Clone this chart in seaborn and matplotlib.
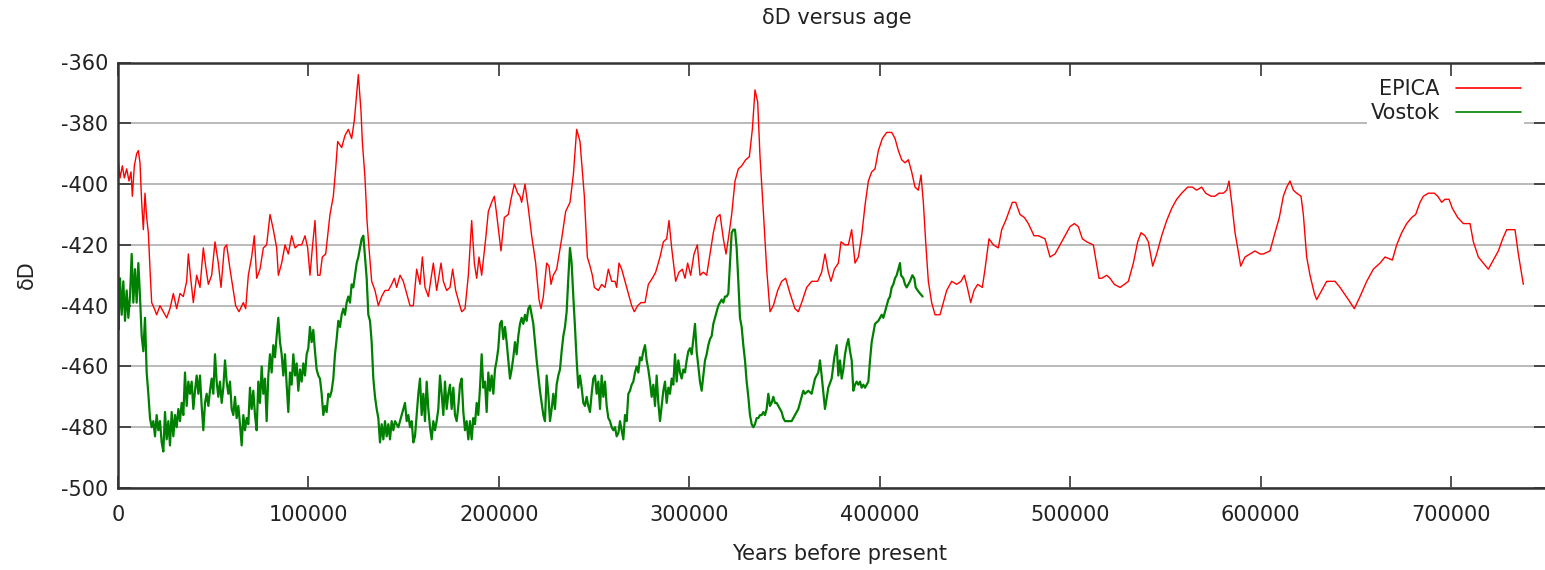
import matplotlib
matplotlib.use("Agg")
import matplotlib.pyplot as plt
import seaborn as sns
import pandas as pd

# ---- EPICA Dome C deuterium record (age in kyr BP, deltaD in permil) ----
EPICA_AGE_KYR = [
    0.1, 1.05, 2.28, 3.33, 4.55, 5.78, 6.83, 7.53, 8.58, 9.80, 10.68, 11.55, 12.43, 13.30,
    14.18, 15.05, 15.93, 16.80, 17.68, 19.08, 20.30, 22.05, 23.80, 25.55, 27.30, 29.05,
    30.80, 32.55, 34.30, 36.05, 36.93, 38.33, 39.55, 41.30, 43.05, 44.80, 46.03, 47.43,
    49.18, 50.93, 52.68, 54.08, 55.83, 57.06, 58.81, 60.56, 61.78, 63.53, 65.81, 67.03,
    68.43, 70.18, 71.58, 72.81, 74.56, 76.31, 78.06, 79.81, 81.56, 83.31, 84.19, 85.94,
    87.69, 89.44, 91.19, 92.94, 94.69, 96.44, 98.19, 99.59, 100.81, 102.04, 103.44,
    104.84, 106.06, 107.29, 109.04, 111.31, 113.06, 114.29, 115.34, 117.44, 119.19,
    120.94, 122.69, 124.09, 125.32, 126.19, 127.59, 128.29, 129.69, 130.74, 131.79,
    133.19, 134.94, 136.69, 138.44, 140.19, 141.94, 143.69, 145.09, 146.32, 148.07,
    149.82, 151.57, 153.32, 155.07, 156.82, 158.57, 159.80, 161.20, 162.95, 165.57,
    167.32, 169.60, 170.82, 172.57, 174.32, 175.72, 177.30, 179.05, 180.45, 182.20,
    183.95, 185.70, 187.10, 188.33, 189.55, 190.95, 193.05, 194.45, 196.20, 197.60,
    198.83, 201.10, 202.85, 204.95, 206.35, 208.10, 209.85, 211.08, 211.95, 213.70,
    215.45, 217.20, 219.30, 221.05, 222.10, 223.33, 225.08, 226.30, 227.35, 228.58,
    230.33, 232.95, 235.06, 237.33, 239.08, 240.83, 242.58, 244.86, 246.43, 247.83,
    249.06, 250.11, 252.21, 253.96, 255.71, 257.46, 259.21, 260.96, 261.83, 263.06,
    264.46, 266.21, 267.96, 269.71, 271.11, 272.86, 274.61, 276.71, 278.46, 280.56,
    282.31, 284.59, 286.34, 288.09, 289.31, 290.71, 292.81, 294.56, 296.31, 297.71,
    299.11, 300.69, 302.44, 304.19, 305.59, 307.34, 309.09, 310.84, 312.59, 314.34,
    316.09, 317.84, 319.24, 320.47, 322.22, 323.97, 325.72, 327.47, 329.57, 331.50,
    333.07, 334.47, 335.87, 337.10, 338.85, 340.60, 342.35, 344.10, 346.37, 348.47,
    350.57, 352.85, 355.47, 357.22, 358.97, 361.60, 364.22, 367.37, 369.47, 371.22,
    372.97, 374.37, 376.12, 378.23, 379.63, 381.73, 383.48, 385.23, 386.98, 388.73,
    390.48, 392.23, 393.98, 395.73, 397.48, 399.23, 401.33, 403.60, 406.23, 407.98,
    409.73, 411.48, 413.23, 414.98, 416.73, 418.48, 420.23, 421.63, 422.86, 424.08,
    425.48, 427.23, 428.98, 431.61, 433.36, 435.11, 437.73, 440.36, 442.63, 444.38,
    445.96, 447.71, 449.46, 451.38, 453.83, 455.23, 457.33, 459.61, 462.23, 463.99,
    466.09, 467.84, 469.59, 471.34, 473.61, 475.89, 477.99, 480.96, 483.24, 486.74,
    489.36, 491.99, 494.61, 497.24, 499.87, 502.14, 504.24, 506.34, 508.62, 512.12,
    515.09, 516.49, 519.12, 520.87, 523.14, 526.12, 528.39, 530.50, 533.12, 535.40,
    537.15, 539.25, 541.00, 543.27, 545.37, 548.00, 550.62, 553.25, 555.87, 558.50,
    561.65, 564.10, 566.37, 569.00, 571.10, 573.90, 576.00, 578.10, 580.38, 582.13,
    583.35, 584.75, 586.50, 587.90, 589.48, 591.75, 594.38, 597.00, 599.63, 601.38,
    604.88, 607.50, 609.78, 611.88, 613.63, 615.38, 617.13, 618.88, 621.16, 622.38,
    624.13, 625.88, 628.16, 629.38, 632.01, 634.63, 639.01, 641.64, 646.01, 649.16,
    652.14, 655.64, 659.14, 662.64, 665.26, 669.11, 671.39, 674.01, 676.64, 679.26,
    681.36, 683.64, 685.39, 688.02, 691.17, 692.92, 695.02, 696.77, 698.87, 700.62,
    703.42, 706.40, 709.90, 711.65, 714.27, 716.90, 719.52, 722.15, 724.77, 727.05,
    729.14, 731.42, 733.52, 735.27, 737.89,
]
EPICA_DD = [
    -392, -398, -394, -398, -395, -399, -396, -404, -394, -390, -389, -393, -406, -415,
    -403, -411, -416, -428, -439, -441, -443, -440, -442, -444, -441, -436,
    -441, -436, -437, -432, -423, -432, -439, -430, -434, -421, -427, -433,
    -430, -419, -426, -434, -421, -420, -428, -435, -440, -442, -439, -441,
    -430, -424, -417, -431, -428, -421, -420, -410, -415, -421, -430, -426,
    -420, -423, -417, -421, -420, -420, -417, -421, -430, -421, -412,
    -430, -430, -424, -423, -410, -404, -395, -386, -388, -384,
    -382, -385, -379, -370, -364, -376, -386, -398, -412, -421,
    -432, -435, -440, -437, -435, -435, -433, -431, -434, -430,
    -432, -436, -440, -440, -428, -433, -424, -434, -437, -426,
    -435, -426, -432, -435, -434, -428, -435, -439, -442, -441,
    -430, -412, -426, -431, -424, -430, -418, -409, -406, -404,
    -410, -422, -411, -410, -405, -400, -403, -404, -406, -400,
    -408, -417, -426, -438, -441, -437, -426, -427, -433, -430,
    -428, -418, -409, -406, -397, -382, -386, -404, -424, -427,
    -430, -434, -435, -433, -434, -428, -432, -432, -434, -426,
    -428, -432, -436, -440, -442, -440, -439, -439, -433, -431,
    -429, -424, -419, -418, -412, -421, -432, -429, -428, -431,
    -426, -430, -423, -420, -430, -429, -430, -423, -416, -411,
    -410, -418, -423, -418, -410, -399, -395, -394, -392, -391,
    -382, -369, -373, -391, -409, -428, -442, -440, -435, -432,
    -431, -436, -441, -442, -439, -434, -432, -432, -429, -423,
    -429, -432, -428, -426, -419, -420, -420, -415, -426, -424,
    -417, -407, -399, -396, -395, -389, -385, -383, -383, -385,
    -389, -392, -393, -392, -396, -401, -402, -397, -406, -419,
    -432, -439, -443, -443, -439, -435, -432, -433, -432, -430,
    -434, -439, -435, -433, -434, -428, -418, -420, -421, -415,
    -412, -409, -406, -406, -410, -411, -413, -417, -417, -418,
    -424, -423, -420, -417, -414, -413, -414, -418, -419, -420,
    -431, -431, -430, -431, -433, -434, -433, -432, -426, -419,
    -416, -417, -419, -427, -423, -417, -412, -408, -405, -403,
    -401, -401, -402, -401, -403, -404, -404, -403, -403, -402,
    -399, -406, -416, -421, -427, -424, -423, -422, -423, -423,
    -422, -416, -411, -404, -401, -399, -402, -403, -404, -410,
    -424, -430, -436, -438, -435, -432, -432, -434, -438, -441,
    -437, -432, -428, -426, -424, -425, -420, -416, -413, -411,
    -410, -406, -404, -403, -403, -404, -406, -405, -405, -408,
    -411, -413, -413, -419, -424, -426, -428, -425, -422, -418,
    -415, -415, -415, -423, -433,
]

# ---- Vostok deuterium record (age in kyr BP, deltaD in permil) ----
VOSTOK_AGE_KYR = [
    0.00, 0.18, 1.05, 1.93, 2.80, 3.68, 4.55, 5.43, 6.30, 7.18, 8.05, 8.93, 9.80, 10.68,
    11.55, 12.43, 13.30, 14.18, 15.05, 15.93, 16.80, 17.68, 18.55, 19.43, 20.30, 21.18,
    22.05, 22.93, 23.80, 24.68, 25.55, 26.43, 27.30, 28.18, 29.05, 29.93, 30.80, 31.68,
    32.55, 33.43, 34.30, 35.18, 36.05, 36.93, 37.80, 38.68, 39.55, 40.43, 41.30, 42.18,
    43.05, 43.93, 44.80, 45.68, 46.55, 47.43, 48.30, 49.18, 50.05, 50.93, 51.80, 52.68,
    53.55, 54.43, 55.30, 56.18, 57.05, 57.93, 58.80, 59.68, 60.55, 61.43, 62.30, 63.18,
    64.05, 64.93, 65.80, 66.68, 67.55, 68.43, 69.30, 70.18, 71.05, 71.93, 72.80, 73.68,
    74.55, 75.43, 76.30, 77.18, 78.05, 78.93, 79.80, 80.68, 81.55, 82.43, 83.30, 84.18,
    85.05, 85.93, 86.80, 87.68, 88.55, 89.43, 90.30, 91.18, 92.05, 92.93, 93.80, 94.68,
    95.55, 96.43, 97.30, 98.18, 99.05, 99.93, 100.80, 101.68, 102.55, 103.43, 104.30,
    105.18, 106.05, 106.93, 107.80, 108.68, 109.55, 110.43, 111.30, 112.18, 113.05,
    113.93, 114.80, 115.68, 116.55, 117.43, 118.30, 119.18, 120.05, 120.93, 121.80,
    122.68, 123.55,
    124.44, 125.32, 126.19, 127.07, 127.94, 128.82, 129.69, 130.57, 131.44, 132.32,
    133.19, 134.07, 134.94, 135.82, 136.69, 137.57, 138.44, 139.32, 140.19, 141.07,
    141.94, 142.82, 143.69, 144.57, 145.44, 147.19, 148.94, 150.69, 151.57, 152.44,
    153.32, 154.19, 155.07, 155.94, 156.82, 157.69, 158.57, 159.44, 160.32, 161.19,
    162.07, 162.94, 163.82, 164.69, 165.57, 166.44, 167.32, 168.19, 169.07, 169.94,
    170.82, 171.69, 172.57, 173.44, 174.32, 175.19, 176.07, 176.94, 177.82, 178.69,
    179.57, 180.44, 181.32, 182.19, 183.07, 183.94, 184.82, 185.69, 186.57, 187.44,
    188.32, 189.19, 190.07, 190.94, 191.82, 192.69, 193.57, 194.44, 195.32, 196.19,
    197.07, 197.94, 198.82, 199.69, 200.57, 201.44, 202.32, 203.19, 204.07, 204.94,
    205.82, 206.69, 207.57, 208.44, 209.32, 210.19, 211.07, 211.94, 212.82, 213.69,
    214.57, 215.44, 216.32, 217.19, 218.07, 218.94, 219.82, 220.69, 221.57, 222.44,
    223.32, 224.19, 225.07, 225.94, 226.82, 227.69, 228.57, 229.44, 230.32, 231.19,
    232.07, 232.94, 233.82, 234.69, 235.57, 236.44, 237.32, 238.19, 239.07, 239.94,
    240.82, 241.69, 242.57, 243.44, 244.32, 245.19, 246.07, 246.94, 247.82, 248.69,
    249.57,
    250.46, 251.33, 252.21, 253.08, 253.96, 254.83, 255.71, 256.58, 257.46, 258.33,
    259.21, 260.08, 260.96, 261.83, 262.71, 263.58, 264.46, 265.33, 266.21, 267.08,
    267.96, 268.83, 269.71, 270.58, 271.46, 272.33, 273.21, 274.08, 274.96, 275.83,
    276.71, 277.58, 278.46, 279.33, 280.21, 281.08, 281.96, 282.83, 283.71, 284.58,
    285.46, 286.33, 287.21, 288.08, 288.96, 289.83, 290.71, 291.58, 292.46, 293.33,
    294.21, 295.08, 295.96, 296.83, 297.71, 298.58, 299.46, 300.33, 301.21, 302.08,
    302.96, 303.83, 304.71, 305.58, 306.46, 307.33, 308.21, 309.08, 309.96, 310.83,
    311.71, 312.58, 313.46, 314.33, 315.21, 316.08, 316.96, 317.83, 318.71, 319.58,
    320.46, 321.33, 322.21, 323.08, 323.96, 324.83, 325.71, 326.58, 327.46, 328.33,
    329.21, 330.08, 330.96, 331.83, 332.71, 333.58, 334.46, 335.33, 336.21, 337.08,
    337.96, 338.83, 339.71, 340.58, 341.46, 342.33, 343.21, 344.08, 344.96, 345.83,
    346.71, 347.58, 348.46, 349.33, 350.21, 351.96, 353.71, 355.46, 357.21, 358.96,
    359.83, 360.71, 362.46, 364.21, 365.96, 367.71, 368.58, 369.46, 371.21, 372.96,
    374.71, 376.12,
    377.35, 378.23, 379.10, 379.98, 380.85, 381.73, 382.60, 383.48, 384.35, 385.23,
    386.10, 386.98, 387.85, 388.73, 389.60, 390.48, 391.35, 392.23, 393.10, 393.98,
    394.85, 395.73, 396.60, 397.48, 399.23, 400.98, 401.85, 402.73, 403.60, 404.48,
    405.35, 406.23, 407.10, 407.98, 408.85, 409.73, 410.60, 411.13, 412.35, 413.23,
    414.10, 414.98, 415.85, 417.08, 418.13, 418.83, 419.88, 421.10, 422.50,
]
VOSTOK_DD = [
    -436, -448, -431, -443, -432, -445, -435, -444, -437, -423, -439, -428, -439, -426,
    -437, -450, -455, -444, -462, -469, -477, -480, -478, -483, -476, -481,
    -478, -485, -488, -475, -484, -478, -486, -475, -483, -476, -480, -474,
    -478, -472, -476, -462, -473, -465, -469, -465, -474, -468, -463, -469,
    -463, -473, -481, -472, -469, -473, -468, -464, -469, -456, -465, -470,
    -465, -472, -467, -458, -465, -469, -465, -474, -476, -470, -477, -473,
    -479, -486, -476, -481, -477, -479, -467, -474, -468, -476, -481, -465,
    -472, -460, -469, -464, -478, -463, -456, -462, -453, -457, -450, -444,
    -452, -456, -463, -456, -466, -475, -462, -466, -456, -463, -459, -468,
    -461, -465, -459, -463, -456, -454, -447, -452, -448, -455, -461,
    -463, -464, -469, -476, -473, -475, -469, -470, -468, -464,
    -456, -451, -445, -447, -443, -441, -443, -439, -437, -439,
    -433, -434,
    -430, -426, -424, -421, -418, -417, -424, -431, -443, -445,
    -452, -464, -470, -474, -477, -485, -479, -484, -478, -483,
    -479, -484, -478, -481, -478, -480, -476, -472, -478, -476,
    -480, -478, -485, -483, -476, -469, -464, -476, -469, -478,
    -465, -474, -480, -484, -478, -481, -478, -474, -463, -469,
    -476, -465, -474, -469, -466, -474, -467, -476, -478, -473,
    -466, -464, -475, -481, -478, -484, -478, -484, -477, -479,
    -472, -476, -467, -456, -467, -465, -475, -462, -468, -463,
    -469, -461, -458, -454, -446, -445, -451, -447, -452, -458,
    -464, -461, -457, -452, -456, -450, -446, -444, -446, -443,
    -445, -441, -440, -443, -446, -452, -458, -463, -468, -472,
    -476, -478, -463, -469, -478, -474, -469, -474, -466, -463,
    -461, -455, -450, -447, -442, -431, -421, -426, -437, -447,
    -458, -467, -463, -467, -472, -473, -470, -473, -475, -469,
    -464,
    -463, -469, -465, -474, -463, -470, -465, -473, -477, -478,
    -480, -481, -480, -483, -482, -478, -481, -484, -476, -478,
    -469, -468, -466, -465, -462, -460, -462, -457, -458, -455,
    -453, -458, -461, -465, -470, -466, -473, -463, -472, -478,
    -473, -468, -465, -472, -467, -469, -464, -466, -456, -465,
    -458, -462, -464, -461, -462, -458, -455, -454, -456, -451,
    -446, -455, -460, -465, -468, -463, -458, -456, -453, -451,
    -450, -446, -444, -442, -440, -439, -438, -439, -437, -437,
    -436, -426, -416, -415, -415, -421, -432, -444, -447, -453,
    -458, -465, -470, -476, -479, -480, -479, -477, -477, -476,
    -476, -475, -476, -474, -469, -473, -472, -470, -472, -472,
    -473, -474, -475, -477, -478, -478, -478, -476, -474, -470,
    -468, -469, -468, -469, -464, -462, -458, -463, -474, -467,
    -464, -457,
    -453, -463, -458, -464, -461, -456, -453, -451, -455, -458,
    -468, -466, -465, -466, -465, -467, -466, -467, -466, -465,
    -458, -452, -449, -446, -445, -443, -444, -442, -440, -438,
    -437, -434, -433, -431, -430, -428, -426, -430, -431, -433,
    -434, -433, -432, -430, -431, -434, -435, -436, -437,
]

SERIES_NAMES = ["EPICA", "Vostok"]
SERIES_COLORS = ["#ff0000", "#008000"]
X_TICKS = [0, 100000, 200000, 300000, 400000, 500000, 600000, 700000]
Y_TICKS = [-500, -480, -460, -440, -420, -400, -380, -360]

frames = [
    pd.DataFrame({"age": [a * 1000 for a in EPICA_AGE_KYR], "dD": EPICA_DD, "core": "EPICA"}),
    pd.DataFrame({"age": [a * 1000 for a in VOSTOK_AGE_KYR], "dD": VOSTOK_DD, "core": "Vostok"}),
]
data = pd.concat(frames, ignore_index=True)

sns.set_theme(style="white")
plt.rcParams["font.family"] = ["DejaVu Sans"]
plt.rcParams["axes.unicode_minus"] = False

W, H = 1545, 570
fig = plt.figure(figsize=(W / 100, H / 100), dpi=100)
ax = fig.add_axes([118 / W, 1 - 488 / H, 1428.4 / W, 425.5 / H])

# the Vostok core is sampled far more densely, so it reads as a heavier trace
sns.lineplot(data=data[data["core"] == "EPICA"], x="age", y="dD",
             color=SERIES_COLORS[0], estimator=None, sort=False,
             linewidth=1.0, ax=ax, legend=False)
sns.lineplot(data=data[data["core"] == "Vostok"], x="age", y="dD",
             color=SERIES_COLORS[1], estimator=None, sort=False,
             linewidth=1.6, ax=ax, legend=False)

ax.set_xlim(0, 750000)
ax.set_ylim(-500, -360)
ax.set_xticks(X_TICKS)
ax.set_xticklabels([str(t) for t in X_TICKS])
ax.set_yticks(Y_TICKS)
ax.set_yticklabels([str(t) for t in Y_TICKS])

ax.yaxis.grid(True, color="#b4b4b4", linewidth=1.3)
ax.xaxis.grid(False)
ax.set_axisbelow(True)

for side in ["left", "right", "top", "bottom"]:
    ax.spines[side].set_visible(True)
    ax.spines[side].set_color("#333333")
    ax.spines[side].set_linewidth(1.8)

ax.tick_params(axis="both", which="major", direction="in", length=9, width=1.2,
               color="#333333", labelsize=15, labelcolor="#222222")
ax.tick_params(axis="x", top=True, bottom=True, pad=12)
ax.tick_params(axis="y", left=True, right=True, pad=7)

ax.set_xlabel("")
ax.set_ylabel("")

fig.text(837 / W, 1 - 18 / H, "δD versus age", ha="center", va="center",
         fontsize=15, color="#222222")
fig.text(840 / W, 1 - 554 / H, "Years before present", ha="center", va="center",
         fontsize=15, color="#222222")
fig.text(27 / W, 1 - 275 / H, "δD", ha="center", va="center", rotation=90,
         fontsize=15, color="#222222")

handles = [plt.Line2D([], [], color=c, linewidth=1.2) for c in SERIES_COLORS]
leg = ax.legend(
    handles, SERIES_NAMES, loc="upper right",
    bbox_to_anchor=(1524 / W, 1 - 76 / H), bbox_transform=fig.transFigure,
    markerfirst=False, frameon=True, facecolor="white", edgecolor="none",
    framealpha=1.0, fancybox=False, borderpad=0.15, borderaxespad=0,
    handlelength=3.1, handletextpad=0.8, labelspacing=0.2, fontsize=15,
)
for t in leg.get_texts():
    t.set_color("#222222")

fig.savefig("out.png", dpi=100)
